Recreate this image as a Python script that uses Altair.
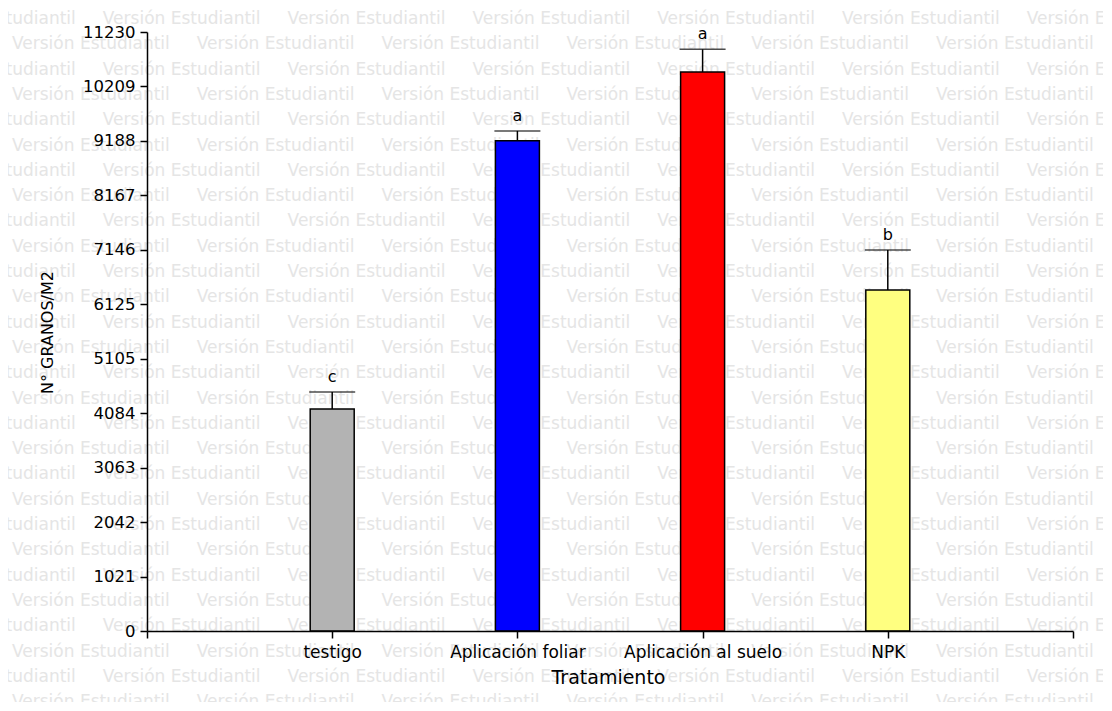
import altair as alt
import pandas as pd

# ---- data ----
categories = ["testigo", "Aplicación foliar", "Aplicación al suelo", "NPK"]
means = [4160, 9190, 10480, 6395]
errors = [320, 185, 425, 750]
letters = ["c", "a", "a", "b"]
bar_colors = ["#b3b3b3", "#0000ff", "#ff0000", "#ffff80"]
y_ticks = [0, 1021, 2042, 3063, 4084, 5105, 6125, 7146, 8167, 9188, 10209, 11230]

df = pd.DataFrame({
    "cat": categories,
    "pos": list(range(1, len(categories) + 1)),
    "mean": means,
    "upper": [m + e for m, e in zip(means, errors)],
    "letter": letters,
})

label_list = [""] + categories + [""]
label_expr = "[" + ",".join("'" + s + "'" for s in label_list) + "][datum.value]"

# ---- background watermark (decoration) ----
wm_text = ("Versión Estudiantil" + "\u00a0" * 5) * 8
wm_rows = []
for k in range(28):
    wm_rows.append({"px": -229 if k % 2 == 0 else -135, "py": -13 + 25.3 * k, "t": wm_text})
wm_df = pd.DataFrame(wm_rows)

watermark = alt.Chart(wm_df).mark_text(
    font="DejaVu Sans", fontSize=17, color="#e5e5e5", align="left", baseline="middle"
).encode(
    x=alt.X("px:Q", scale=None, axis=None),
    y=alt.Y("py:Q", scale=None, axis=None),
    text="t:N",
)

AX = dict(
    domainColor="black", tickColor="black", domainWidth=1.5, tickWidth=1.5,
    labelColor="black", titleColor="black", grid=False, zindex=1,
    labelFont="DejaVu Sans", titleFont="DejaVu Sans", titleFontWeight="normal",
)

x_enc = alt.X(
    "pos:Q",
    scale=alt.Scale(domain=[0, 5], nice=False, zero=False, padding=0),
    axis=alt.Axis(
        values=[0, 1, 2, 3, 4, 5], labelExpr=label_expr, title="Tratamiento",
        tickSize=7, labelPadding=6, labelFontSize=17, titleFontSize=19,
        titleX=461, titleY=46, titleBaseline="middle", titleAlign="center",
        labelFlush=False, labelOverlap=False, **AX,
    ),
)
y_enc = alt.Y(
    "mean:Q",
    scale=alt.Scale(domain=[0, 11230], nice=False, padding=0),
    axis=alt.Axis(
        values=y_ticks, format="d", title="N° GRANOS/M2",
        tickSize=7, labelPadding=5, labelFontSize=16.5, titleFontSize=16,
        titleX=-100, titleY=300, titleBaseline="middle", titleAlign="center",
        labelOverlap=False, **AX,
    ),
)

base = alt.Chart(df)
bars = base.mark_bar(width=44, stroke="black", strokeWidth=1.5).encode(
    x=x_enc, y=y_enc,
    color=alt.Color("cat:N", scale=alt.Scale(domain=categories, range=bar_colors), legend=None),
)
err = base.mark_rule(strokeWidth=1.5, color="black").encode(x="pos:Q", y="mean:Q", y2="upper:Q")
cap = base.mark_tick(orient="horizontal", size=46, thickness=1.5, color="black").encode(
    x="pos:Q", y="upper:Q"
)
txt = base.mark_text(dy=-15, fontSize=16, font="DejaVu Sans", color="black", baseline="middle").encode(
    x="pos:Q", y="upper:Q", text="letter:N"
)

main = alt.layer(bars, err, cap, txt)

chart = alt.layer(watermark, main).resolve_scale(
    x="independent", y="independent"
).properties(
    width=926, height=599,
    background="white",
    autosize=alt.AutoSizeParams(type="none"),
    padding={"left": 139, "top": 24, "right": 30, "bottom": 71},
).configure_view(stroke="transparent", strokeWidth=0)

chart.save("out.html", embed_options={"renderer": "svg", "actions": False})
